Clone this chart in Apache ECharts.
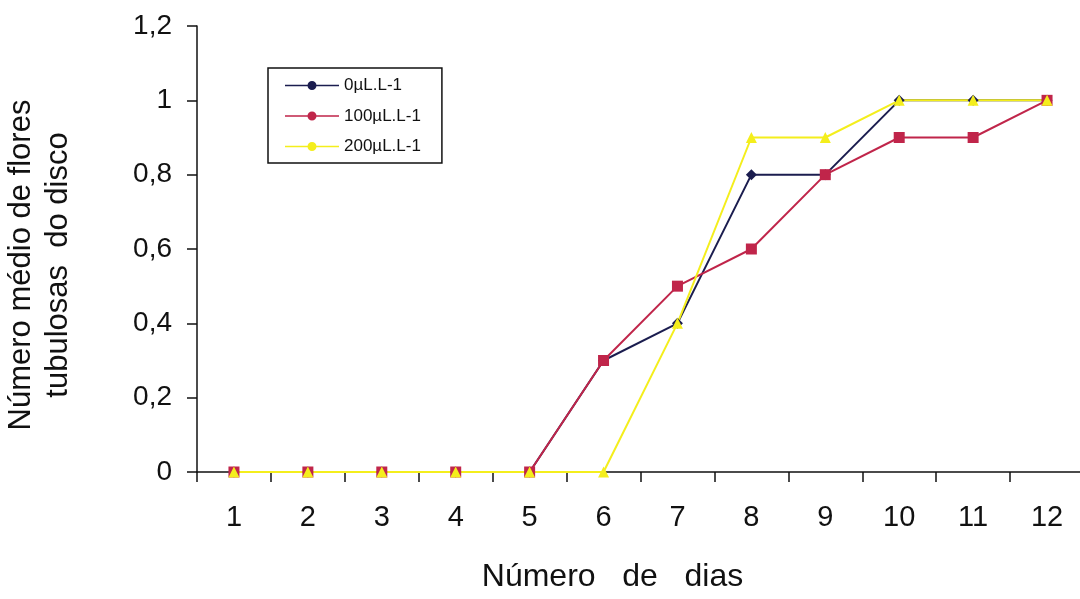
<!DOCTYPE html>
<html>
<head>
<meta charset="utf-8">
<script src="https://cdn.jsdelivr.net/npm/echarts@6/dist/echarts.min.js"></script>
<style>
html,body{margin:0;padding:0;background:#fff;}
#chart{width:1080px;height:599px;}
</style>
</head>
<body>
<div id="chart"></div>
<script>
var days = ['1','2','3','4','5','6','7','8','9','10','11','12'];
var seriesNames = ['0µL.L-1','100µL.L-1','200µL.L-1'];
var dose0 = [0,0,0,0,0,0.3,0.4,0.8,0.8,1,1,1];
var dose100 = [0,0,0,0,0,0.3,0.5,0.6,0.8,0.9,0.9,1];
var dose200 = [0,0,0,0,0,0,0.4,0.9,0.9,1,1,1];
var yTitle = 'Número médio de flores\ntubulosas  do disco';
var xTitle = 'Número   de   dias';

var legendIcon = 'path://M0,3.7H54V5.3H0Z M22.5,4.5A4.5,4.5 0 1,1 31.5,4.5A4.5,4.5 0 1,1 22.5,4.5Z';
var font = 'Liberation Sans, Arial, sans-serif';

var chart = echarts.init(document.getElementById('chart'), null, {renderer:'canvas'});
chart.setOption({
  backgroundColor:'#ffffff',
  animation:false,
  textStyle:{fontFamily:font},
  grid:{left:197, top:26, width:887, height:446, containLabel:false, outerBoundsMode:'none'},
  legend:{
    left:268, top:68, orient:'vertical',
    padding:[9,21,8,17],
    itemWidth:54, itemHeight:9, itemGap:13.5,
    borderColor:'#111', borderWidth:1.5, backgroundColor:'#fff',
    textStyle:{fontFamily:font, fontSize:17, color:'#111', lineHeight:17},
    icon: legendIcon,
    data: seriesNames
  },
  xAxis:{
    type:'category', data:days, boundaryGap:true,
    name:xTitle, nameLocation:'middle', nameGap:89,
    nameTextStyle:{fontFamily:font, fontSize:32, color:'#111', padding:[0,56,0,0]},
    axisLine:{lineStyle:{color:'#111', width:1.5}},
    axisTick:{show:true, length:10, inside:false, lineStyle:{color:'#111', width:1.5}},
    axisLabel:{fontFamily:font, fontSize:29, color:'#111', margin:31},
    splitLine:{show:false}
  },
  yAxis:{
    type:'value', min:0, max:1.2, interval:0.2,
    name:yTitle, nameLocation:'middle', nameRotate:90, nameGap:120,
    nameTextStyle:{fontFamily:font, fontSize:31, lineHeight:37, color:'#111', align:'center', padding:[0,32,0,0]},
    axisLine:{show:true, lineStyle:{color:'#111', width:1.5}},
    axisTick:{show:true, length:10, lineStyle:{color:'#111', width:1.5}},
    axisLabel:{fontFamily:font, fontSize:28, color:'#111', margin:25,
      formatter:function(v){ return String(Math.round(v*10)/10).replace('.', ','); }},
    splitLine:{show:false}
  },
  series:[
    {name:seriesNames[0], type:'line', data:dose0, symbol:'diamond', symbolSize:11,
     color:'#1b1d4f', lineStyle:{width:2, color:'#1b1d4f'}, itemStyle:{color:'#1b1d4f'}},
    {name:seriesNames[1], type:'line', data:dose100, symbol:'rect', symbolSize:11,
     color:'#c0254a', lineStyle:{width:2, color:'#c0254a'}, itemStyle:{color:'#c0254a'}},
    {name:seriesNames[2], type:'line', data:dose200, symbol:'triangle', symbolSize:11,
     color:'#f4ee1c', lineStyle:{width:2, color:'#f4ee1c'}, itemStyle:{color:'#f4ee1c'}}
  ]
});
</script>
</body>
</html>
